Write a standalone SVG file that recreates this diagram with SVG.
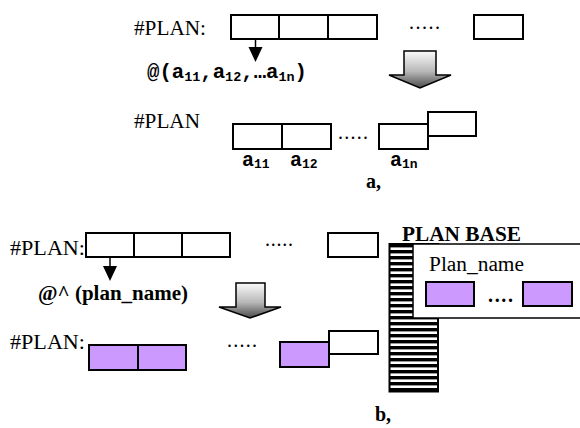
<svg xmlns="http://www.w3.org/2000/svg" width="580" height="428" viewBox="0 0 580 428">
  <defs>
    <style>
      .cell { fill: #ffffff; stroke: #000000; stroke-width: 2; }
      .plan { fill: #cc99ff; stroke: #000000; stroke-width: 2; }
      .lbl { font-family: "Liberation Serif", "Times New Roman", serif; font-size: 20px; fill: #000000; }
      .bold { font-weight: bold; }
      .mono { font-family: "Liberation Mono", "Courier New", monospace; font-weight: bold; font-size: 20px; fill: #000000; }
      .sub { font-size: 13px; }
      .dots { font-family: "Liberation Serif", "Times New Roman", serif; font-size: 20px; fill: #000000; }
      .ptr { stroke: #000000; stroke-width: 1.5; fill: none; }
      .head { fill: #000000; }
      .block { fill: url(#blockGrad); stroke: #000000; stroke-width: 1.5; stroke-linejoin: miter; }
    </style>
    <linearGradient id="blockGrad" x1="0" y1="0" x2="0" y2="1">
      <stop offset="0" stop-color="#fbfbfb"/>
      <stop offset="0.55" stop-color="#b8b8b8"/>
      <stop offset="1" stop-color="#4a4a4a"/>
    </linearGradient>
    <pattern id="stripes" x="0" y="244" width="8" height="6" patternUnits="userSpaceOnUse">
      <rect x="0" y="0" width="8" height="6" fill="#ffffff"/>
      <rect x="0" y="0" width="8" height="3.4" fill="#000000"/>
    </pattern>
  </defs>

  <!-- a) plan addressed by index list -->
  <g id="plan-a-top">
    <text class="lbl" x="134" y="35" textLength="72" lengthAdjust="spacingAndGlyphs">#PLAN:</text>
    <rect class="cell" x="231" y="15" width="48" height="24"/>
    <rect class="cell" x="279" y="15" width="49" height="24"/>
    <rect class="cell" x="328" y="15" width="49" height="24"/>
    <text class="dots" x="409" y="29" textLength="31" lengthAdjust="spacing">.....</text>
    <rect class="cell" x="474" y="15" width="49" height="24"/>
  </g>

  <g id="index-list">
    <text class="mono" x="147" y="78" textLength="160" lengthAdjust="spacingAndGlyphs">@(a<tspan class="sub" dy="3">11</tspan><tspan dy="-3">,a</tspan><tspan class="sub" dy="3">12</tspan><tspan dy="-3">,…a</tspan><tspan class="sub" dy="3">1n</tspan><tspan dy="-3">)</tspan></text>
  </g>

  <g id="plan-a-bottom">
    <text class="lbl" x="134" y="128" textLength="66" lengthAdjust="spacingAndGlyphs">#PLAN</text>
    <rect class="cell" x="233" y="124" width="49" height="25"/>
    <rect class="cell" x="282" y="124" width="49" height="25"/>
    <text class="dots" x="338" y="139" textLength="30" lengthAdjust="spacing">.....</text>
    <rect class="cell" x="379" y="124" width="49" height="25"/>
    <rect class="cell" x="428" y="112" width="48" height="24"/>
    <text class="mono" x="242" y="166">a<tspan class="sub" dy="2">11</tspan></text>
    <text class="mono" x="290" y="166">a<tspan class="sub" dy="2">12</tspan></text>
    <text class="mono" x="390" y="166">a<tspan class="sub" dy="2">1n</tspan></text>
    <text class="lbl bold" x="366" y="188">a,</text>
  </g>

  <!-- b) plan addressed by name through the plan base -->
  <g id="plan-b-top">
    <text class="lbl" x="10" y="255" textLength="75" lengthAdjust="spacingAndGlyphs">#PLAN:</text>
    <rect class="cell" x="86" y="233" width="48" height="24"/>
    <rect class="cell" x="134" y="233" width="48" height="24"/>
    <rect class="cell" x="182" y="233" width="48" height="24"/>
    <text class="dots" x="265" y="246" textLength="28" lengthAdjust="spacing">.....</text>
    <rect class="cell" x="328" y="233" width="50" height="24"/>
  </g>

  <g id="name-ref">
    <text class="lbl bold" x="38" y="300" textLength="150" lengthAdjust="spacingAndGlyphs">@^ (plan_name)</text>
  </g>

  <g id="plan-b-bottom">
    <text class="lbl" x="10" y="349" textLength="75" lengthAdjust="spacingAndGlyphs">#PLAN:</text>
    <rect class="plan" x="89" y="345" width="49" height="25"/>
    <rect class="plan" x="138" y="345" width="48" height="25"/>
    <text class="dots" x="227" y="347" textLength="30" lengthAdjust="spacing">.....</text>
    <rect class="plan" x="280" y="342" width="49" height="25"/>
    <rect class="cell" x="329" y="331" width="49" height="23"/>
    <text class="lbl bold" x="375" y="421">b,</text>
  </g>

  <g id="plan-base">
    <text class="lbl bold" x="402" y="241" textLength="119" lengthAdjust="spacingAndGlyphs">PLAN BASE</text>
    <rect x="389.5" y="244" width="48.5" height="147.5" fill="url(#stripes)" stroke="#000000" stroke-width="2"/>
    <rect x="413" y="244" width="175" height="74" fill="#ffffff" stroke="#000000" stroke-width="1.5"/>
    <text class="lbl" x="429" y="271" textLength="95" lengthAdjust="spacingAndGlyphs">Plan_name</text>
    <rect class="plan" x="426" y="282" width="48" height="24"/>
    <text class="dots bold" x="488" y="302" textLength="25" lengthAdjust="spacing">....</text>
    <rect class="plan" x="523" y="282" width="49" height="24"/>
  </g>

  <g id="connectors">
    <line class="ptr" x1="255.5" y1="39" x2="255.5" y2="48"/>
    <polygon class="head" points="248.5,47 262.5,47 255.5,62"/>
    <line class="ptr" x1="110" y1="257" x2="110" y2="267"/>
    <polygon class="head" points="103,266 117,266 110,281"/>
    <polygon class="block" points="404,51 436,51 436,75 451,75 420,88 389,75 404,75"/>
    <polygon class="block" points="236,283 265,283 265,307 281,307 250,318 219,307 236,307"/>
  </g>
</svg>
